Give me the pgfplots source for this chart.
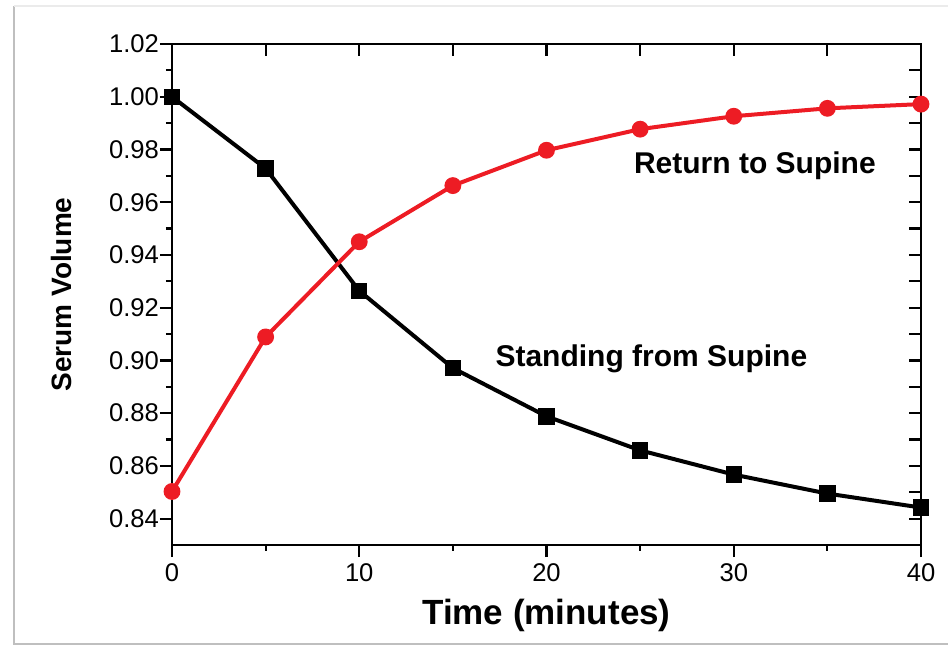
\documentclass[border=0pt]{standalone}
\usepackage{pgfplots}
\pgfplotsset{compat=1.18}
\usepackage{fontspec}
\setmainfont{Liberation Sans}
\definecolor{supred}{RGB}{237,28,36}

\begin{document}
\begin{tikzpicture}
  % page frame (1px = 0.5pt)
  \path[use as bounding box] (-86pt,-51pt) rectangle (388pt,272.5pt);
  \draw[black!25, line width=1.2pt] (-79pt,269.5pt) -- (-79pt,-49.5pt) -- (388pt,-49.5pt);
  \draw[black!8, line width=1pt] (-79pt,269.5pt) -- (388pt,269.5pt);

  \pgfplotsset{
    common/.style={
      scale only axis,
      width=374.5pt, height=250.5pt,
      at={(0,0)}, anchor=south west,
      xmin=0, xmax=40, ymin=0.83, ymax=1.02,
      xtick={0,10,20,30,40},
      ytick={0.84,0.86,...,1.02},
      minor x tick num=1,
      minor y tick num=1,
      axis line style={line width=1.1pt},
      every tick/.style={black, line width=1.1pt},
    },
  }

  % mirrored ticks on top and right, pointing inward
  \begin{axis}[common,
      xtick pos=right, ytick pos=right,
      tick align=inside,
      major tick length=6pt, minor tick length=6pt,
      xticklabels={}, yticklabels={},
    ]
  \end{axis}

  \begin{axis}[common,
      xtick pos=left, ytick pos=left,
      tick align=outside,
      major tick length=6pt, minor tick length=3pt,
      /pgf/number format/assume math mode=true,
      yticklabel style={/pgf/number format/.cd, fixed, fixed zerofill, precision=2, /tikz/.cd, xshift=3pt},
      xticklabel style={/pgf/number format/.cd, fixed},
      tick label style={font=\fontsize{12.8}{15}\selectfont},
      xlabel={\textbf{Time (minutes)}},
      ylabel={\textbf{Serum Volume}},
      xlabel style={font=\fontsize{17.5}{20}\selectfont, at={(axis description cs:0.5,-0.14)}, anchor=center},
      ylabel style={font=\fontsize{14}{16}\selectfont, at={(axis description cs:-0.147,0.5)}, anchor=center},
      clip=false,
    ]
    \addplot[black, line width=2pt, mark=square*, mark size=3.1pt,
             mark options={solid}] coordinates {
      (0,1.000) (5,0.9728) (10,0.9264) (15,0.8971) (20,0.8788)
      (25,0.8659) (30,0.8567) (35,0.8495) (40,0.8442)
    };
    \addplot[supred, line width=2pt, mark=*, mark size=3.2pt] coordinates {
      (0,0.8503) (5,0.9089) (10,0.9450) (15,0.9663) (20,0.9797)
      (25,0.9877) (30,0.9926) (35,0.9956) (40,0.9972)
    };
    \node[font=\bfseries\fontsize{15}{18}\selectfont] at (axis cs:31.13,0.974) {Return to Supine};
    \node[font=\bfseries\fontsize{15}{18}\selectfont] at (axis cs:25.6,0.9005) {Standing from Supine};
  \end{axis}
\end{tikzpicture}
\end{document}
